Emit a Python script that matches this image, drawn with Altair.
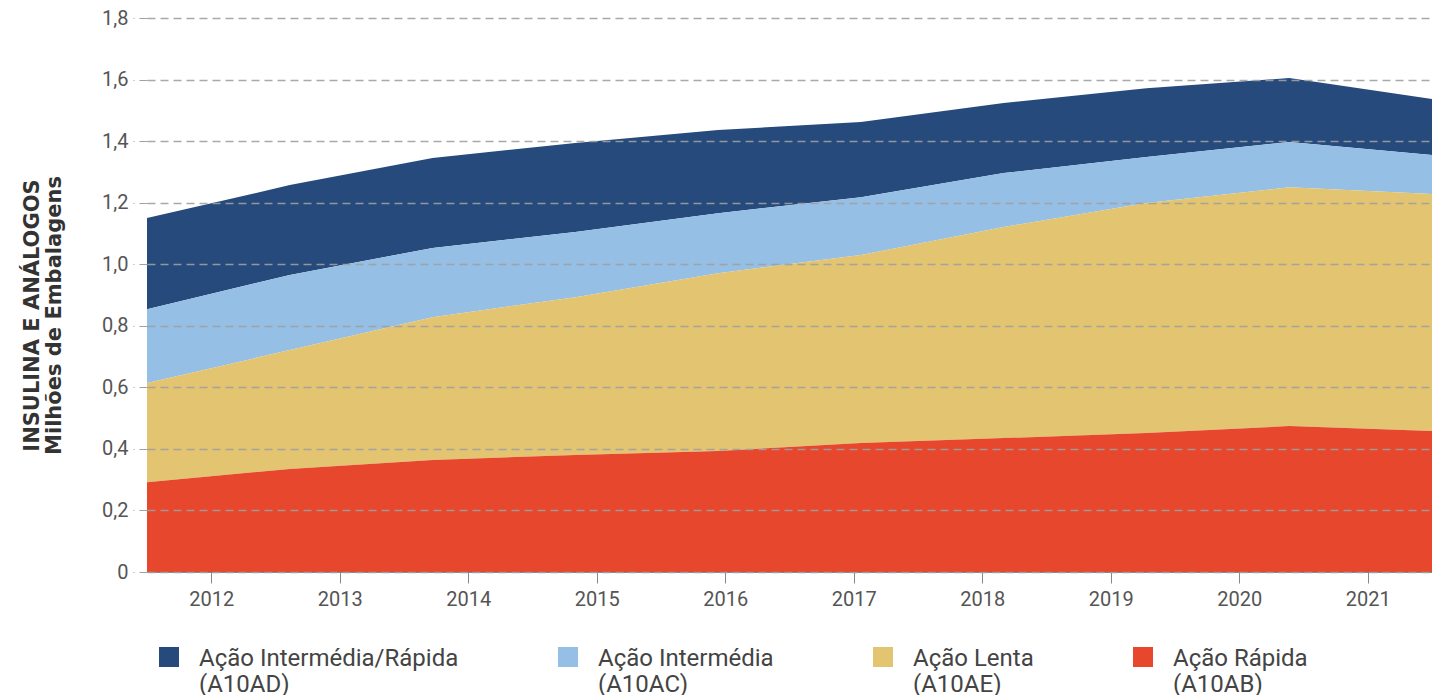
import altair as alt
import pandas as pd

years = [2012, 2013, 2014, 2015, 2016, 2017, 2018, 2019, 2020, 2021]
rapida = [0.292, 0.335, 0.364, 0.380, 0.393, 0.419, 0.435, 0.452, 0.474, 0.458]
lenta = [0.322, 0.386, 0.464, 0.513, 0.578, 0.611, 0.686, 0.747, 0.776, 0.770]
intermedia = [0.240, 0.244, 0.225, 0.212, 0.195, 0.188, 0.175, 0.149, 0.147, 0.127]
interm_rapida = [0.296, 0.292, 0.292, 0.289, 0.270, 0.244, 0.228, 0.224, 0.208, 0.182]

series_names = [
    "Ação Intermédia/Rápida\n(A10AD)",
    "Ação Intermédia\n(A10AC)",
    "Ação Lenta\n(A10AE)",
    "Ação Rápida\n(A10AB)",
]
series_colors = ["#254a7b", "#95bfe4", "#e2c471", "#e6472d"]
series_values = [interm_rapida, intermedia, lenta, rapida]
stack_order = [3, 2, 1, 0]

rows = []
for name, vals, order in zip(series_names, series_values, stack_order):
    for y, v in zip(years, vals):
        rows.append({"Ano": y, "Valor": v, "Serie": name, "Ordem": order})
df = pd.DataFrame(rows)

n = len(years)
step = (years[-1] - years[0]) / n
tick_pos = [years[0] + step * (i + 0.5) for i in range(n)]

label_expr = (
    f"format(round((datum.value - {years[0]}) / {step} - 0.5) + {years[0]}, 'd')"
)

chart = (
    alt.Chart(df)
    .mark_area(opacity=1)
    .encode(
        x=alt.X(
            "Ano:Q",
            scale=alt.Scale(domain=[years[0], years[-1]], nice=False, zero=False),
            axis=alt.Axis(
                title=None,
                values=tick_pos,
                labelExpr=label_expr,
                grid=False,
                tickSize=11,
                tickColor="#888888",
                domainColor="#888888",
                labelPadding=6,
                labelFontSize=20,
                labelColor="#555555",
                labelFont="Roboto",
            ),
        ),
        y=alt.Y(
            "Valor:Q",
            stack="zero",
            scale=alt.Scale(domain=[0, 1.8], nice=False),
            axis=alt.Axis(
                title=["INSULINA E ANÁLOGOS", "Milhões de Embalagens"],
                values=[0, 0.2, 0.4, 0.6, 0.8, 1.0, 1.2, 1.4, 1.6, 1.8],
                labelExpr="datum.value == 0 ? '0' : replace(format(datum.value, '.1f'), '.', ',')",
                grid=True,
                gridDash=[8, 5],
                gridColor="#a0a0a0",
                gridWidth=1.5,
                gridOpacity=0.9,
                domain=False,
                tickSize=14,
                tickColor="#a0a0a0",
                tickDash=[8, 5],
                labelPadding=5,
                labelFontSize=20,
                labelColor="#555555",
                labelFont="Roboto",
                titleFont="DejaVu Sans",
                titleFontSize=21,
                titleFontWeight="bold",
                titleColor="#333333",
                titleLineHeight=22,
                titleAngle=-90,
                titleAlign="center",
                titleBaseline="alphabetic",
                titleX=-109,
                titleY=297,
                zindex=1,
            ),
        ),
        color=alt.Color(
            "Serie:N",
            scale=alt.Scale(domain=series_names, range=series_colors),
            legend=alt.Legend(
                title=None,
                orient="none",
                legendX=10,
                legendY=617,
                direction="horizontal",
                columns=4,
                columnPadding=97,
                symbolType="M-1,0L1,0L1,2L-1,2Z",
                symbolSize=400,
                symbolStrokeWidth=0,
                symbolOpacity=1,
                labelFontSize=24,
                labelFont="Roboto",
                labelColor="#444444",
                labelOffset=18,
                labelLimit=400,
                labelBaseline="top",
                labelExpr="split(datum.label, '\\n')",
                padding=0,
            ),
        ),
        order=alt.Order("Ordem:Q", sort="ascending"),
    )
    .properties(
        width=1285,
        height=554,
        autosize="none",
        padding={"left": 139, "top": 10, "right": 0, "bottom": 126},
    )
    .configure_view(stroke=None)
)

chart.save("out.html", embed_options={"renderer": "svg", "actions": False})
